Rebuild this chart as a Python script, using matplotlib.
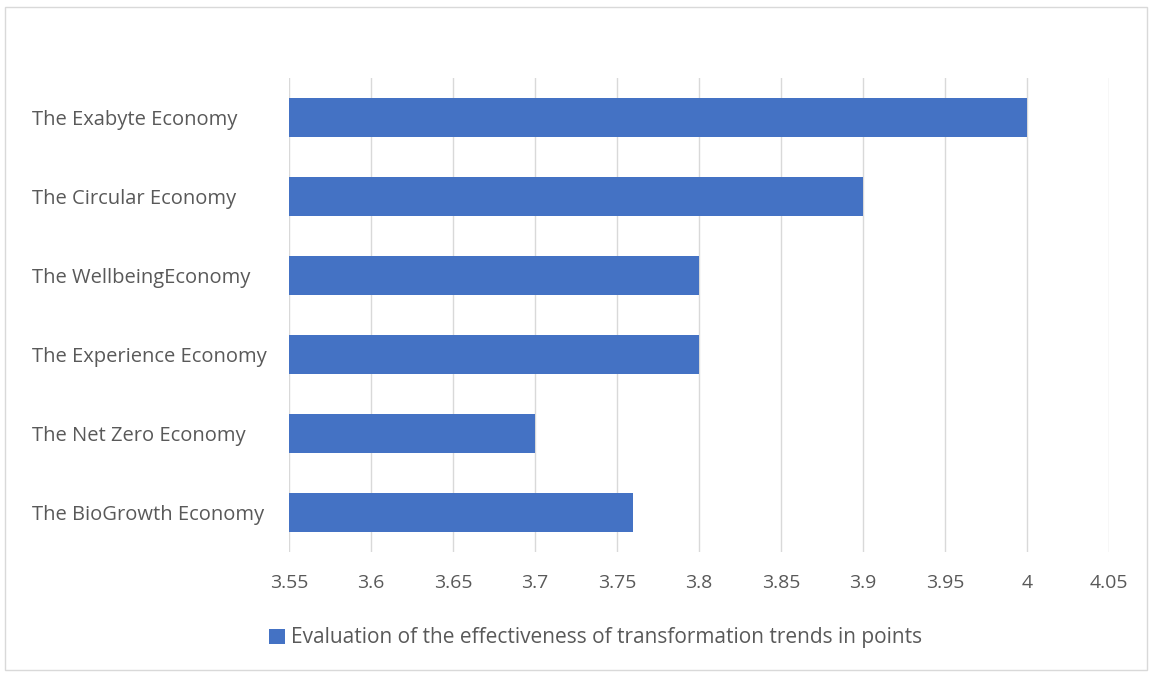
import numpy as np
import matplotlib.pyplot as plt
from matplotlib.patches import Rectangle

categories = ['The Exabyte Economy', 'The Circular Economy', 'The WellbeingEconomy',
              'The Experience Economy', 'The Net Zero Economy', 'The BioGrowth Economy']
values = [4.0, 3.9, 3.8, 3.8, 3.7, 3.76]
xticks = [3.55, 3.6, 3.65, 3.7, 3.75, 3.8, 3.85, 3.9, 3.95, 4.0, 4.05]
xticklabels = ['3.55', '3.6', '3.65', '3.7', '3.75', '3.8', '3.85', '3.9', '3.95', '4', '4.05']
series_name = 'Evaluation of the effectiveness of transformation trends in points'

plt.rcParams['font.family'] = ['Open Sans', 'DejaVu Sans']
text_color = '#595959'

fig = plt.figure(figsize=(11.52, 6.75), dpi=100)
ax = fig.add_axes([289 / 1152, 1 - 552 / 675, (1109 - 289) / 1152, (552 - 78) / 675])

# frame around the whole chart
fig.patches.append(Rectangle((5 / 1152, 5 / 675), 1142 / 1152, 663 / 675,
                             transform=fig.transFigure, fill=False,
                             edgecolor='#d9d9d9', linewidth=1))

y = np.arange(len(categories))
ax.barh(y, [v - 3.55 for v in values], left=3.55, height=0.5,
        color='#4472C4', label=series_name, zorder=3)

ax.set_xlim(3.55, 4.05)
ax.set_ylim(len(categories) - 0.5, -0.5)
ax.set_xticks(xticks)
ax.set_xticklabels(xticklabels)
ax.set_yticks(y)
ax.set_yticklabels(categories)
ax.grid(axis='x', color='#d9d9d9', linewidth=1, zorder=0)
for s in ax.spines.values():
    s.set_visible(False)

ax.tick_params(axis='x', length=0, pad=16, labelsize=14, labelcolor=text_color)
ax.tick_params(axis='y', length=0, pad=185, labelsize=14.5, labelcolor=text_color)
for lab in ax.get_yticklabels():
    lab.set_horizontalalignment('left')

fig.legend(loc='center', bbox_to_anchor=(0.517, 1 - 638 / 675), frameon=False,
           fontsize=15, labelcolor=text_color, handlelength=0.75, handleheight=0.75,
           handletextpad=0.3)

fig.savefig('out.png', dpi=100, facecolor='white')
